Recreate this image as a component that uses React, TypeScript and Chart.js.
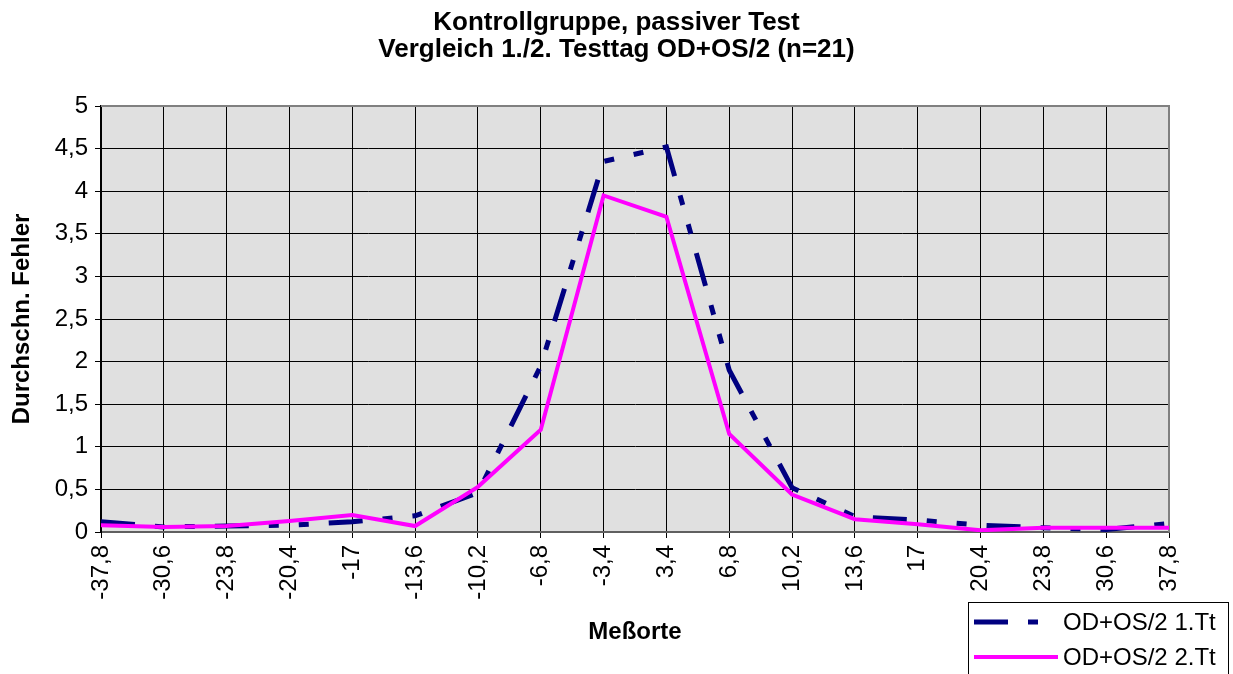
import React, { useEffect, useRef } from 'react';
import { Chart, registerables } from 'chart.js';

Chart.register(...registerables);

const titleLines = ['Kontrollgruppe, passiver Test', 'Vergleich 1./2. Testtag OD+OS/2 (n=21)'];
const xTitle = 'Meßorte';
const yTitle = 'Durchschn. Fehler';
const seriesNames = ['OD+OS/2 1.Tt', 'OD+OS/2 2.Tt'];

const xLabels = ['-37,8', '-30,6', '-23,8', '-20,4', '-17', '-13,6', '-10,2', '-6,8', '-3,4', '3,4', '6,8', '10,2', '13,6', '17', '20,4', '23,8', '30,6', '37,8'];
const day1Values = [0.12, 0.06, 0.07, 0.08, 0.12, 0.19, 0.46, 1.95, 4.35, 4.52, 1.9, 0.52, 0.18, 0.14, 0.08, 0.05, 0.03, 0.1];
const day2Values = [0.08, 0.06, 0.07, 0.13, 0.2, 0.07, 0.53, 1.2, 3.95, 3.7, 1.15, 0.44, 0.15, 0.09, 0.02, 0.05, 0.05, 0.05];

const yMin = 0;
const yMax = 5;
const yStep = 0.5;

const FONT = '"Liberation Sans", Arial, sans-serif';
const NAVY = '#000080';
const PINK = '#FF00FF';
const DASH = [34, 20, 10, 20, 10, 20];

const plotBackground = {
  id: 'plotBackground',
  beforeDraw(chart: any) {
    const { ctx, chartArea } = chart;
    const { left, top, right, bottom } = chartArea;
    ctx.save();
    ctx.fillStyle = '#FFFFFF';
    ctx.fillRect(0, 0, chart.width, chart.height);
    ctx.fillStyle = '#E0E0E0';
    ctx.fillRect(left, top, right - left, bottom - top);
    ctx.restore();
  },
  beforeDatasetsDraw(chart: any) {
    const { ctx, chartArea } = chart;
    const { left, top, right, bottom } = chartArea;
    ctx.save();
    ctx.strokeStyle = '#808080';
    ctx.lineWidth = 2;
    ctx.beginPath();
    ctx.moveTo(left, top);
    ctx.lineTo(right, top);
    ctx.lineTo(right, bottom);
    ctx.stroke();
    ctx.restore();
  },
};

const centeredTitle = {
  id: 'centeredTitle',
  afterDraw(chart: any) {
    const { ctx } = chart;
    ctx.save();
    ctx.fillStyle = '#000000';
    ctx.font = `bold 26px ${FONT}`;
    ctx.textAlign = 'center';
    ctx.textBaseline = 'middle';
    titleLines.forEach((line, i) => {
      ctx.fillText(line, chart.width / 2, 22.5 + i * 27);
    });
    ctx.restore();
  },
};

const boxLegend = {
  id: 'boxLegend',
  afterDraw(chart: any) {
    const { ctx } = chart;
    const ds = chart.data.datasets;
    const bx = 968.5;
    const by = 602.5;
    const bw = 260;
    const bh = 80;
    ctx.save();
    ctx.fillStyle = '#FFFFFF';
    ctx.fillRect(bx, by, bw, bh);
    ctx.strokeStyle = '#000000';
    ctx.lineWidth = 1;
    ctx.strokeRect(bx, by, bw, bh);
    const rows = [622, 657];
    ds.forEach((d: any, i: number) => {
      const y = rows[i];
      ctx.save();
      ctx.strokeStyle = d.borderColor;
      ctx.lineWidth = d.borderWidth;
      ctx.setLineDash(d.borderDash || []);
      ctx.lineCap = 'butt';
      ctx.beginPath();
      ctx.moveTo(974, y);
      ctx.lineTo(1058, y);
      ctx.stroke();
      ctx.restore();
      ctx.fillStyle = '#000000';
      ctx.font = `24px ${FONT}`;
      ctx.textAlign = 'left';
      ctx.textBaseline = 'middle';
      ctx.fillText(d.label, 1063, y + 1);
    });
    ctx.restore();
  },
};

export default function App() {
  const canvasRef = useRef<HTMLCanvasElement | null>(null);

  useEffect(() => {
    const canvas = canvasRef.current;
    if (!canvas) return;
    const chart = new Chart(canvas, {
      type: 'line',
      data: {
        labels: xLabels,
        datasets: [
          {
            label: seriesNames[0],
            data: day1Values,
            borderColor: NAVY,
            backgroundColor: NAVY,
            borderWidth: 5,
            borderDash: DASH,
            pointRadius: 0,
            tension: 0,
            fill: false,
            order: 2,
          },
          {
            label: seriesNames[1],
            data: day2Values,
            borderColor: PINK,
            backgroundColor: PINK,
            borderWidth: 4,
            pointRadius: 0,
            tension: 0,
            fill: false,
            order: 1,
          },
        ],
      },
      options: {
        responsive: false,
        animation: false,
        layout: { padding: { left: 0, right: 64, top: 106, bottom: 0 } },
        plugins: {
          legend: { display: false },
          tooltip: { enabled: false },
          title: { display: false },
        },
        scales: {
          x: {
            type: 'category',
            offset: false,
            grid: { color: '#000000', lineWidth: 1, tickLength: 6, offset: false },
            border: { display: true, color: '#606060', width: 2 },
            ticks: {
              autoSkip: false,
              minRotation: 90,
              maxRotation: 90,
              padding: 7,
              color: '#000000',
              font: { family: FONT, size: 24 },
            },
            title: {
              display: true,
              text: xTitle,
              color: '#000000',
              font: { family: FONT, size: 24, weight: 'bold', lineHeight: 1.2 },
              padding: { top: 0, bottom: 27 },
            },
            afterFit(scale: any) {
              scale.height = 142;
            },
          },
          y: {
            min: yMin,
            max: yMax,
            grid: { color: '#000000', lineWidth: 1, tickLength: 6 },
            border: { display: true, color: '#000000', width: 2 },
            ticks: {
              stepSize: yStep,
              padding: 7,
              color: '#000000',
              font: { family: FONT, size: 24 },
              callback: (v: any) => String(Number(v)).replace('.', ','),
            },
            title: {
              display: true,
              text: yTitle,
              color: '#000000',
              font: { family: FONT, size: 24, weight: 'bold', lineHeight: 1.2 },
              padding: { top: 8, bottom: 0 },
            },
            afterFit(scale: any) {
              scale.width = 101;
            },
          },
        },
      },
      plugins: [plotBackground, centeredTitle, boxLegend],
    });
    return () => chart.destroy();
  }, []);

  return (
    <div style={{ position: 'absolute', left: 0, top: 0, width: 1233, height: 674, background: '#FFFFFF' }}>
      <canvas ref={canvasRef} width={1233} height={674} style={{ display: 'block' }} />
    </div>
  );
}
